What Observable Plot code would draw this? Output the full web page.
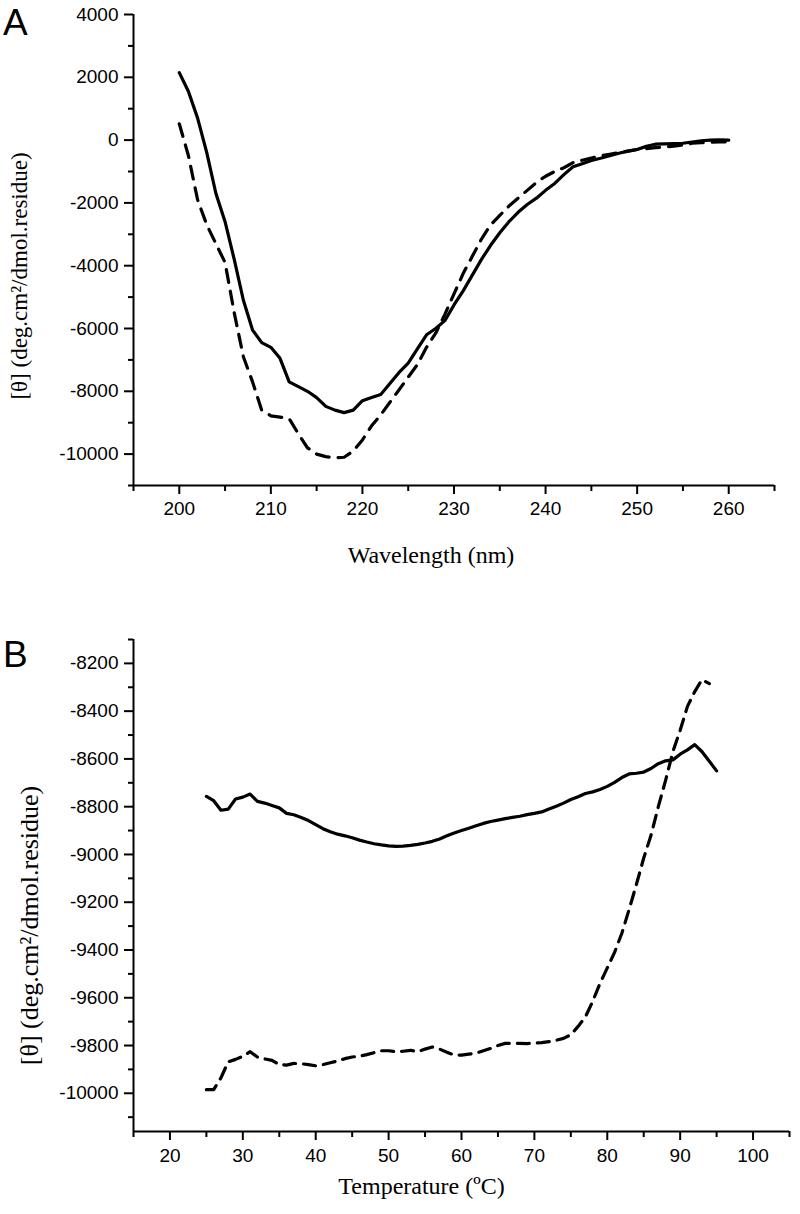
<!DOCTYPE html>
<html><head><meta charset="utf-8">
<script src="https://cdn.jsdelivr.net/npm/d3@7"></script>
<script src="https://cdn.jsdelivr.net/npm/@observablehq/plot@0.6"></script>
<style>
body{margin:0;background:#fff;}
#wrap{position:relative;width:800px;height:1214px;background:#fff;}
.panel{position:absolute;left:0;}
.panel svg{display:block;}
.tag{position:absolute;font-family:"Liberation Sans",Arial,sans-serif;font-size:37px;line-height:1;color:#000;}
</style></head><body>
<div id="wrap">
<div class="panel" id="pa" style="top:0"></div>
<div class="panel" id="pb" style="top:600px"></div>
<div class="tag" style="left:3px;top:4px">A</div>
<div class="tag" style="left:3px;top:636px">B</div>
</div>
<script>
// ---------- Panel A: CD spectra ----------
const wavelength = [200,201,202,203,204,205,206,207,208,209,210,211,212,213,214,215,216,217,218,219,220,221,222,223,224,225,226,227,228,229,230,231,232,233,234,235,236,237,238,239,240,241,242,243,244,245,246,247,248,249,250,251,252,253,254,255,256,257,258,259,260];
const spectrumSolid = [2150,1550,700,-400,-1700,-2600,-3800,-5100,-6050,-6450,-6600,-6950,-7700,-7850,-8000,-8200,-8480,-8600,-8680,-8600,-8300,-8200,-8100,-7750,-7400,-7100,-6650,-6200,-6000,-5750,-5250,-4800,-4300,-3800,-3350,-2950,-2600,-2300,-2050,-1850,-1600,-1380,-1100,-850,-750,-650,-580,-500,-420,-350,-300,-200,-130,-120,-110,-100,-60,-20,0,10,0];
const spectrumDashed = [520,-500,-1900,-2700,-3300,-3900,-5500,-6900,-7700,-8600,-8780,-8820,-8870,-9350,-9800,-10000,-10080,-10120,-10100,-9900,-9550,-9100,-8750,-8350,-7950,-7550,-7150,-6600,-6150,-5550,-4900,-4250,-3700,-3150,-2700,-2400,-2100,-1850,-1600,-1350,-1150,-1000,-880,-720,-640,-570,-500,-450,-400,-350,-300,-270,-240,-220,-190,-160,-100,-80,-70,-60,-50];
const xTicksA = [200,210,220,230,240,250,260];
const xMinorA = [195,205,215,225,235,245,255,265];
const yTicksA = [-10000,-8000,-6000,-4000,-2000,0,2000,4000];
const yMinorA = [-11000,-9000,-7000,-5000,-3000,-1000,1000,3000];
const xLabelA = "Wavelength (nm)";

// ---------- Panel B: thermal melt ----------
const temperature = [25,26,27,28,29,30,31,32,33,34,35,36,37,38,39,40,41,42,43,44,45,46,47,48,49,50,51,52,53,54,55,56,57,58,59,60,61,62,63,64,65,66,67,68,69,70,71,72,73,74,75,76,77,78,79,80,81,82,83,84,85,86,87,88,89,90,91,92,93,94,95];
const meltSolid = [-8757,-8775,-8815,-8810,-8768,-8760,-8747,-8778,-8785,-8795,-8805,-8828,-8834,-8845,-8858,-8875,-8892,-8905,-8915,-8922,-8930,-8940,-8948,-8955,-8960,-8964,-8966,-8965,-8962,-8958,-8952,-8945,-8935,-8922,-8910,-8900,-8890,-8880,-8870,-8862,-8856,-8850,-8845,-8840,-8833,-8828,-8822,-8810,-8798,-8785,-8770,-8758,-8745,-8738,-8728,-8715,-8698,-8678,-8663,-8660,-8655,-8640,-8620,-8608,-8604,-8580,-8562,-8540,-8570,-8610,-8650];
const meltDashed = [-9985,-9985,-9935,-9868,-9858,-9845,-9826,-9848,-9856,-9862,-9880,-9882,-9875,-9876,-9880,-9885,-9880,-9872,-9865,-9855,-9848,-9845,-9838,-9830,-9822,-9822,-9826,-9824,-9820,-9826,-9815,-9806,-9815,-9828,-9840,-9840,-9836,-9832,-9822,-9812,-9800,-9791,-9791,-9791,-9792,-9790,-9788,-9784,-9778,-9770,-9755,-9720,-9680,-9615,-9540,-9475,-9410,-9330,-9230,-9125,-9015,-8920,-8800,-8690,-8570,-8480,-8380,-8318,-8268,-8285];
const xTicksB = [20,30,40,50,60,70,80,90,100];
const xMinorB = [15,25,35,45,55,65,75,85,95,105];
const yTicksB = [-10000,-9800,-9600,-9400,-9200,-9000,-8800,-8600,-8400,-8200];
const yMinorB = [-10100,-9900,-9700,-9500,-9300,-9100,-8900,-8700,-8500,-8300,-8100];
const xLabelB = "Temperature (ºC)";

const yLabel = "[θ] (deg.cm²/dmol.residue)";

const SANS = '"Liberation Sans", Arial, Helvetica, sans-serif';
const SERIF = '"Liberation Serif", "Times New Roman", serif';
const fmt = d => String(d);

const dataA = wavelength.map((w, i) => ({w, solid: spectrumSolid[i], dashed: spectrumDashed[i]}));
const dataB = temperature.map((t, i) => ({t, solid: meltSolid[i], dashed: meltDashed[i]}));

function axes(xT, xM, yT, yM, x0, y0, fs, xpad) {
  return [
    Plot.axisX(xT, {tickSize: 9, tickPadding: xpad, strokeWidth: 2, label: null, tickFormat: fmt, fontSize: fs}),
    Plot.axisX(xM, {tickSize: 6, strokeWidth: 2, label: null, tickFormat: () => ""}),
    Plot.axisY(yT, {tickSize: 9, tickPadding: 6, strokeWidth: 2, label: null, tickFormat: fmt, fontSize: fs}),
    Plot.axisY(yM, {tickSize: 5, strokeWidth: 2, label: null, tickFormat: () => ""}),
    Plot.ruleY([y0], {strokeWidth: 2, stroke: "#000"}),
    Plot.ruleX([x0], {strokeWidth: 2, stroke: "#000"})
  ];
}

const plotA = Plot.plot({
  width: 800, height: 600,
  marginLeft: 133, marginRight: 26, marginTop: 14, marginBottom: 115,
  x: {domain: [195, 265]},
  y: {domain: [-11000, 4000]},
  style: {fontFamily: SANS, fontSize: "19px", color: "#000", background: "#fff", overflow: "visible"},
  marks: [
    ...axes(xTicksA, xMinorA, yTicksA, yMinorA, 195, -11000, 19, 7),
    Plot.line(dataA, {x: "w", y: "solid", stroke: "#000", strokeWidth: 3.2}),
    Plot.line(dataA, {x: "w", y: "dashed", stroke: "#000", strokeWidth: 3.2, strokeDasharray: "13,9"}),
    Plot.text([xLabelA], {text: d => d, frameAnchor: "bottom", textAnchor: "middle", dx: -23, dy: 77, fontFamily: SERIF, fontSize: 24, fill: "#000"}),
    Plot.text([yLabel], {text: d => d, frameAnchor: "left", textAnchor: "middle", dx: -114, dy: 26, rotate: -90, fontFamily: SERIF, fontSize: 23, fill: "#000"})
  ]
});
document.getElementById("pa").appendChild(plotA);

const plotB = Plot.plot({
  width: 800, height: 614,
  marginLeft: 133, marginRight: 11, marginTop: 39, marginBottom: 83,
  x: {domain: [15, 105]},
  y: {domain: [-10160, -8100]},
  style: {fontFamily: SANS, fontSize: "19px", color: "#000", background: "#fff", overflow: "visible"},
  marks: [
    ...axes(xTicksB, xMinorB, yTicksB, yMinorB, 15, -10160, 19, 8),
    Plot.line(dataB, {x: "t", y: "solid", stroke: "#000", strokeWidth: 3.2}),
    Plot.line(dataB, {x: "t", y: "dashed", stroke: "#000", strokeWidth: 3.2, strokeDasharray: "12,8"}),
    Plot.text([xLabelB], {text: d => d, frameAnchor: "bottom", textAnchor: "middle", dx: -40, dy: 62, fontFamily: SERIF, fontSize: 24, fill: "#000"}),
    Plot.text([yLabel], {text: d => d, frameAnchor: "left", textAnchor: "middle", dx: -104, dy: 40, rotate: -90, fontFamily: SERIF, fontSize: 26, fill: "#000"})
  ]
});
document.getElementById("pb").appendChild(plotB);
</script>
</body></html>
